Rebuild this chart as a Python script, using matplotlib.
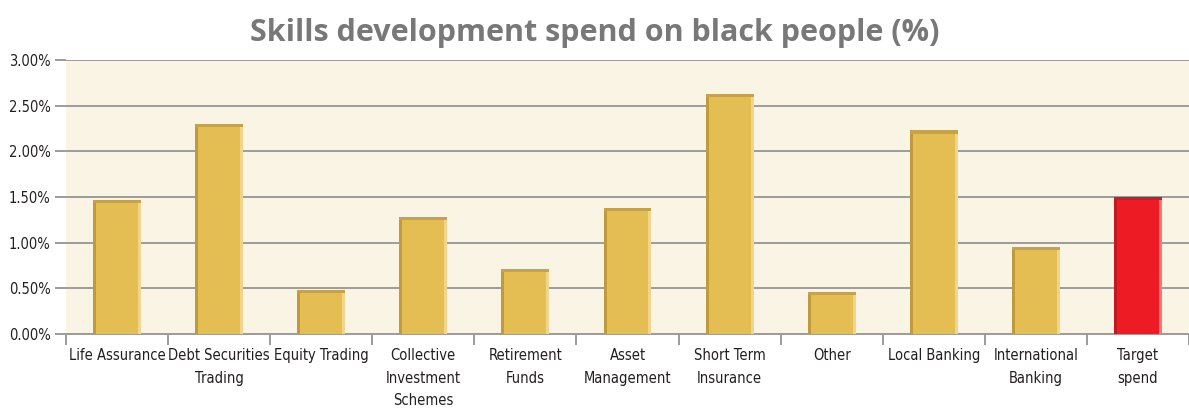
import numpy as np
import matplotlib.pyplot as plt
from matplotlib.ticker import FixedLocator, PercentFormatter

plt.rcParams['font.family'] = ['DejaVu Sans']
plt.rcParams['font.stretch'] = 'condensed'

# skills spend per sector, in percent
categories = ["Life Assurance", "Debt Securities\nTrading", "Equity Trading",
              "Collective\nInvestment\nSchemes", "Retirement\nFunds",
              "Asset\nManagement", "Short Term\nInsurance", "Other",
              "Local Banking", "International\nBanking", "Target\nspend"]
values = [1.47, 2.30, 0.48, 1.28, 0.71, 1.38, 2.63, 0.46, 2.23, 0.95, 1.50]
yticks = [0.0, 0.5, 1.0, 1.5, 2.0, 2.5, 3.0]

x = np.arange(len(categories))
vals = np.array(values)
is_target = np.array([c.startswith("Target") for c in categories])

face = np.where(is_target, "#ED1C24", "#E4BD53")
dark = np.where(is_target, "#C41820", "#BF9A3E")
light = np.where(is_target, "#F4777C", "#F1D58C")
top = np.where(is_target, "#D01A22", "#C8A346")

fig = plt.figure(figsize=(11.89, 4.09), dpi=100)
ax = fig.add_axes([0.0555, 0.1834, 0.9445, 0.6699])
ax.set_facecolor("#FAF4E4")

w = 0.47
edge = 0.03
cap = 0.035
ax.bar(x, vals, width=w, color=face, zorder=3)
# bevel: dark left side, light right side, darker cap on top
ax.bar(x - w / 2, vals, width=edge, align="edge", color=dark, zorder=4)
ax.bar(x + w / 2 - edge, vals, width=edge, align="edge", color=light, zorder=4)
ax.bar(x, np.full_like(vals, cap), bottom=vals - cap, width=w, color=top, zorder=5)

ax.set_xlim(-0.5, len(categories) - 0.5)
ax.set_ylim(0, 3.0)
ax.yaxis.set_major_locator(FixedLocator(yticks))
ax.yaxis.set_major_formatter(PercentFormatter(decimals=2))
ax.grid(axis="y", color="#9C9C9C", lw=1.4, zorder=1)
ax.tick_params(axis="y", length=8, width=1.4, color="#9C9C9C",
               labelsize=10.5, labelcolor="#231F20", pad=3)

ax.set_xticks(x)
ax.set_xticklabels(categories, fontsize=10.5, color="#231F20", va="top",
                   linespacing=1.65)
ax.tick_params(axis="x", length=0, pad=10)
ax.set_xticks(np.arange(len(categories) + 1) - 0.5, minor=True)
ax.tick_params(axis="x", which="minor", length=8, width=1.4, color="#9C9C9C")

for s in ["top", "right", "left"]:
    ax.spines[s].set_visible(False)
ax.spines["bottom"].set_color("#9C9C9C")
ax.spines["bottom"].set_linewidth(1.4)

fig.text(0.5, 0.955, "Skills development spend on black people (%)",
         ha="center", va="top", fontsize=22, fontweight="bold",
         color="#787878", family=["Open Sans", "DejaVu Sans"])

fig.savefig("out.png", dpi=100, facecolor="white")
